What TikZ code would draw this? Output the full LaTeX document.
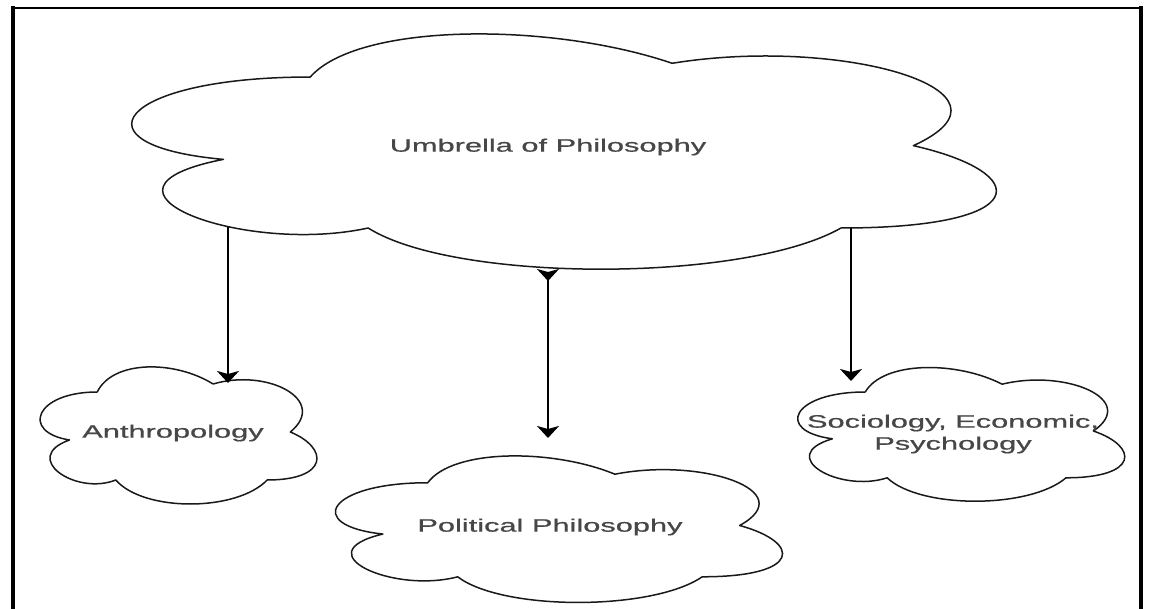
\documentclass[tikz,border=0pt]{standalone}
\usepackage{fontspec}
\usepackage{graphicx}
\newfontfamily\arialf[FakeBold=0.6]{Liberation Sans}
\usetikzlibrary{arrows.meta}
\newcommand\sx[1]{\scalebox{1.71}[1]{#1}}
\newcommand\drawcloud[4]{%
  \begin{scope}[shift={(#1,#2)},xscale=#3,yscale=#4]
    \draw[cloudline] (0.25,0.25) .. controls (0.05,0.25) and (0,0.5) .. (0.16,0.55)
      .. controls (0,0.66) and (0.18,0.9) .. (0.31,0.8)
      .. controls (0.4,1) and (0.7,1) .. (0.8,0.8)
      .. controls (1,0.8) and (1,0.6) .. (0.875,0.5)
      .. controls (1,0.3) and (0.8,0.1) .. (0.625,0.2)
      .. controls (0.5,0.05) and (0.3,0.05) .. (0.25,0.25) -- cycle;
  \end{scope}}
\tikzset{
  cloudline/.style={draw=black!90, line width=1.5pt, line join=round},
  label/.style={font=\arialf\fontsize{18}{22}\selectfont, text=black!72, align=center, inner sep=0pt},
  arr/.style={draw=black, line width=2pt},
  tip/.tip={Stealth[length=12pt,width=22pt,inset=3pt]},
  frame/.style={draw=black, line width=4pt}
}
\begin{document}
\begin{tikzpicture}[x=1pt,y=-1pt]
\useasboundingbox (0,0) rectangle (1149,609);
% frame
\draw[frame] (13,609) -- (13,6);
\draw[draw=black, line width=2.5pt] (11,8) -- (1143,8);
\draw[frame] (1141,6) -- (1141,609);
% clouds
\drawcloud{69}{8.4}{965}{274.5}
\drawcloud{20}{352}{309}{160}
\drawcloud{303}{440}{499}{171}
\drawcloud{774}{353}{365}{156}
% labels
\node[label] (umb) at (548,147) {\sx{Umbrella of Philosophy}};
\node[label] (anth) at (173,433) {\sx{Anthropology}};
\node[label] (pol) at (550,527) {\sx{Political Philosophy}};
\node[label] (soc) at (953,434) {\sx{Sociology, Economic,}\\\sx{Psychology}};
% connector ends
\coordinate (a1s) at (228,227);
\coordinate (a1e) at (228,383);
\coordinate (a2s) at (548,269);
\coordinate (a2e) at (548,438);
\coordinate (a3s) at (851,228);
\coordinate (a3e) at (851,381);
\draw[arr,-tip] (a1s) -- (a1e);
\draw[arr,{Stealth[reversed,length=12pt,width=22pt,inset=3pt]}-tip] (a2s) -- (a2e);
\draw[arr,-tip] (a3s) -- (a3e);
\end{tikzpicture}
\end{document}
